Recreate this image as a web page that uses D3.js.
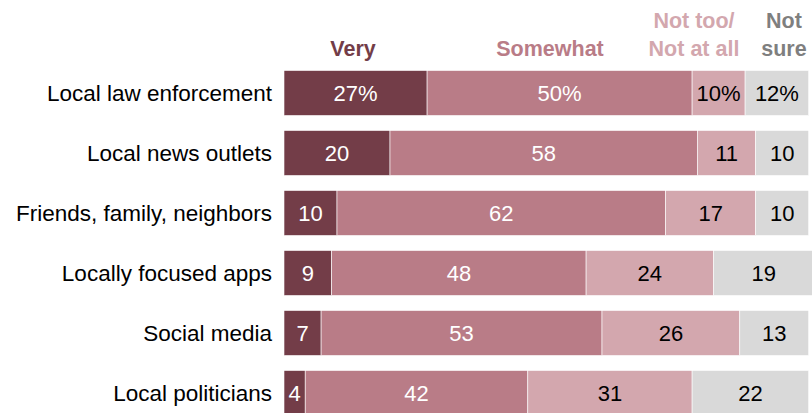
<!DOCTYPE html>
<html><head><meta charset="utf-8">
<script src="https://cdn.jsdelivr.net/npm/d3@7"></script>
<style>body{margin:0;background:#fff}svg{display:block}</style>
</head><body>
<svg id="c" width="812" height="413"></svg>
<script>
const categories = ["Local law enforcement","Local news outlets","Friends, family, neighbors","Locally focused apps","Social media","Local politicians"];
const very = [27,20,10,9,7,4];
const somewhat = [50,58,62,48,53,42];
const notToo = [10,11,17,24,26,31];
const notSure = [12,10,10,19,13,22];
const seriesNames = ["Very","Somewhat","Not too/\nNot at all","Not\nsure"];
const colors = ["#733d48","#b97c87","#d3a7ae","#d9d9d9"];
const headerColors = ["#733d48","#b97c87","#d3a7ae","#7f7f7f"];
const textColors = ["#fff","#fff","#000","#000"];

const svg = d3.select("#c");
const font = "'Liberation Sans', Arial, sans-serif";
const x = d3.scaleLinear().domain([0,100]).range([284,814]);
const y = d3.scaleBand().domain(categories).range([63,423]).paddingInner(0.25).paddingOuter(0.125);

const rows = categories.map((c,i)=>{
  const vals=[very[i],somewhat[i],notToo[i],notSure[i]];
  let acc=0;
  return {c, segs: vals.map((v,k)=>{const s={k,v,x0:acc,x1:acc+v,i}; acc+=v; return s;})};
});

const g = svg.append("g");
rows.forEach(r=>{
  const rg = g.append("g");
  rg.selectAll("rect").data(r.segs).join("rect")
    .attr("x",d=>x(d.x0)).attr("width",d=>x(d.x1)-x(d.x0))
    .attr("y",y(r.c)).attr("height",y.bandwidth())
    .attr("fill",d=>colors[d.k]).attr("stroke","#fff").attr("stroke-width",0.6);
  rg.selectAll("text").data(r.segs).join("text")
    .attr("x",d=>(x(d.x0)+x(d.x1))/2)
    .attr("y",y(r.c)+y.bandwidth()/2)
    .attr("dy","0.36em").attr("text-anchor","middle")
    .attr("font-family",font).attr("font-size",22)
    .attr("fill",d=>textColors[d.k])
    .text(d=> d.i===0 ? d.v+"%" : d.v);
  g.append("text").attr("x",272).attr("y",y(r.c)+y.bandwidth()/2).attr("dy","0.36em")
    .attr("text-anchor","end").attr("font-family",font).attr("font-size",22.5).attr("fill","#000")
    .text(r.c);
});

const hx = [353,550,694,784];
seriesNames.forEach((n,k)=>{
  const lines=n.split("\n");
  const t=svg.append("text").attr("text-anchor","middle").attr("font-family",font)
    .attr("font-weight","bold").attr("font-size",21.5).attr("fill",headerColors[k]);
  lines.forEach((l,j)=>{
    t.append("tspan").attr("x",hx[k]).attr("y",56-(lines.length-1-j)*28).text(l);
  });
});
</script>
</body></html>
